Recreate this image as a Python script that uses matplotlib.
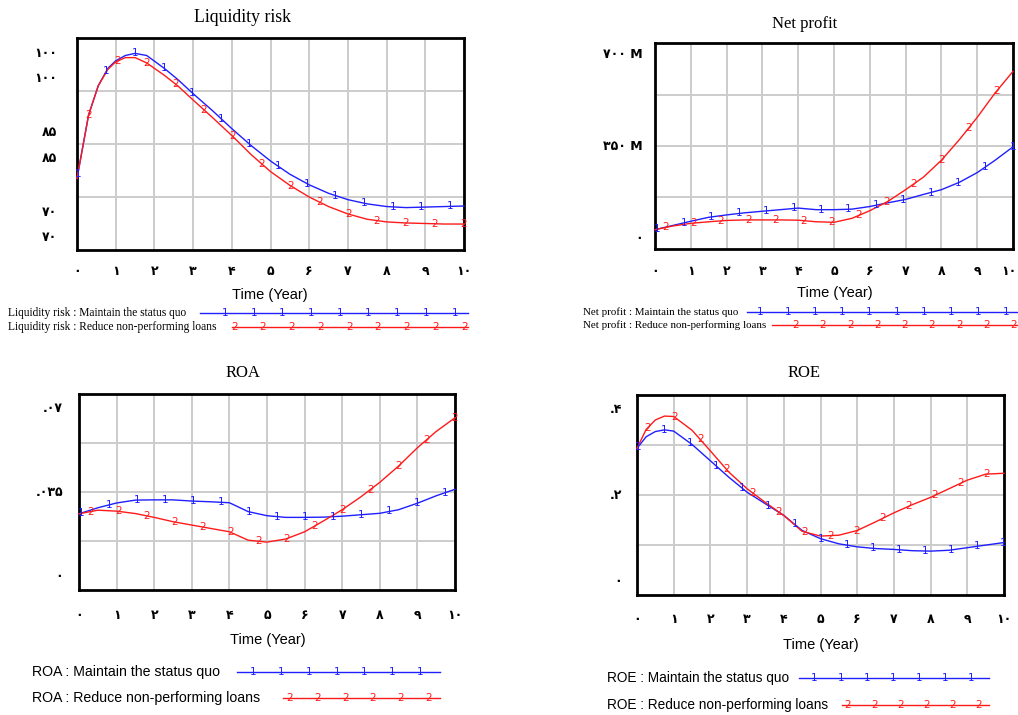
import numpy as np
import matplotlib
matplotlib.use("Agg")
import matplotlib.pyplot as plt
from matplotlib.lines import Line2D
from matplotlib.ticker import FixedLocator
from matplotlib.transforms import ScaledTranslation

W, H = 1018, 715

# ---------------- data ----------------
years = list(range(11))
year_labels = ["۰", "۱", "۲", "۳", "۴", "۵", "۶", "۷", "۸", "۹", "۱۰"]

t_liq = [0, 0.1, 0.3, 0.55, 0.8, 1.0, 1.25, 1.5, 1.8, 2.25, 2.6, 3.0, 3.5, 4.0, 4.5,
         5.0, 5.5, 6.0, 6.5, 7.0, 7.5, 8.0, 8.5, 9.0, 9.5, 10]
liq_status = [78.5, 82.5, 90.5, 96.0, 99.3, 100.7, 101.7, 102.1, 101.7, 99.3, 97.2, 94.5,
              91.3, 87.9, 84.7, 81.8, 79.3, 77.3, 75.7, 74.5, 73.7, 73.2, 73.0, 73.1, 73.2, 73.3]
liq_npl = [78.5, 82.5, 90.5, 96.0, 99.1, 100.5, 101.3, 101.3, 100.3, 98.0, 96.0, 93.3,
           90.0, 86.6, 83.0, 79.8, 77.2, 75.0, 73.2, 71.8, 70.8, 70.3, 70.1, 70.0, 69.9, 69.9]

t_np = [0, 0.5, 1, 1.5, 2, 2.5, 3, 3.5, 4, 4.5, 5, 5.5, 6, 6.5, 7, 7.5, 8, 8.5, 9, 9.5, 10]
np_status = [28, 44, 60, 75, 84, 92, 98, 104, 110, 104, 104, 106, 116, 130, 143, 162,
             180, 208, 245, 292, 343]
np_npl = [28, 42, 52, 58, 63, 65, 65, 65, 64, 58, 56, 71, 100, 135, 180, 228, 292, 370,
          455, 548, 630]

t_roa = [0, 0.5, 1, 1.5, 2, 2.5, 3, 3.5, 4, 4.5, 5, 5.5, 6, 6.5, 7, 7.5, 8, 8.5, 9, 9.5, 10]
roa_status = [0.0255, 0.0280, 0.0300, 0.0312, 0.0313, 0.0313, 0.0308, 0.0305, 0.0301,
              0.0264, 0.0247, 0.0240, 0.0240, 0.0241, 0.0245, 0.0251, 0.0257, 0.0272,
              0.0299, 0.0330, 0.0357]
roa_npl = [0.0255, 0.0270, 0.0266, 0.0256, 0.0240, 0.0222, 0.0208, 0.0194, 0.0180,
           0.0145, 0.0137, 0.0150, 0.0180, 0.0225, 0.0272, 0.0326, 0.0386, 0.0454,
           0.0530, 0.0598, 0.0655]

t_roe = [0, 0.25, 0.5, 0.75, 1, 1.5, 2, 2.5, 3, 3.5, 4, 4.5, 5, 5.5, 6, 6.5, 7, 7.5, 8,
         8.5, 9, 9.5, 10]
roe_status = [0.306, 0.333, 0.345, 0.349, 0.346, 0.315, 0.277, 0.239, 0.204, 0.177, 0.150,
              0.115, 0.096, 0.084, 0.077, 0.073, 0.071, 0.068, 0.067, 0.069, 0.075, 0.081,
              0.087]
roe_npl = [0.306, 0.350, 0.372, 0.381, 0.380, 0.348, 0.300, 0.251, 0.212, 0.180, 0.150,
           0.113, 0.102, 0.104, 0.115, 0.135, 0.156, 0.175, 0.192, 0.212, 0.232, 0.246,
           0.248]

BLUE = "#1f1fff"
RED = "#ff1a1a"
GRID = "#cccccc"
SERIF = ["Liberation Serif", "DejaVu Serif"]
SANS = ["Liberation Sans", "DejaVu Sans"]
DIGITS = ["DejaVu Sans"]

fig = plt.figure(figsize=(W / 100, H / 100), dpi=100)


def fx(x):
    return x / W


def fy(y):
    return 1 - y / H


def make_axes(box, ylim, grid_vals, ytick_vals, ytick_labels, xpad, ypad):
    x0, y0, x1, y1 = box
    ax = fig.add_axes([fx(x0), fy(y1), (x1 - x0) / W, (y1 - y0) / H])
    ax.set_xlim(0, 10)
    ax.set_ylim(*ylim)
    ax.set_xticks(years, year_labels, fontfamily=DIGITS, fontweight="bold", fontsize=9)
    ax.set_yticks(ytick_vals, ytick_labels, fontfamily=DIGITS, fontweight="bold", fontsize=9)
    ax.yaxis.set_minor_locator(FixedLocator(grid_vals))
    ax.tick_params(axis="both", which="both", length=0)
    ax.tick_params(axis="x", pad=xpad)
    ax.tick_params(axis="y", pad=ypad)
    ax.grid(True, axis="x", which="major", color=GRID, lw=1.4)
    ax.grid(True, axis="y", which="minor", color=GRID, lw=1.4)
    ax.grid(False, axis="y", which="major")
    for s in ax.spines.values():
        s.set_linewidth(2)
        s.set_color("black")
    ax.set_axisbelow(True)
    return ax


def draw_series(ax, t, v, color, label, mark_times):
    ax.plot(t, v, color=color, lw=1.0, zorder=3, clip_on=False)
    for mt in mark_times:
        ax.text(mt, np.interp(mt, t, v), label, color=color, fontsize=7.5,
                ha="center", va="center", zorder=4, clip_on=False)


def legend_row(x_text, y, text, x_line0, x_line1, marks, color, label, font, size):
    fig.text(fx(x_text), fy(y), text, ha="left", va="center", fontsize=size,
             fontfamily=font)
    fig.add_artist(Line2D([fx(x_line0), fx(x_line1)], [fy(y), fy(y)],
                          transform=fig.transFigure, color=color, lw=1.0))
    for mx in marks:
        fig.text(fx(mx), fy(y), label, ha="center", va="center", fontsize=7.5,
                 color=color)


def title(xc, y, s, size=12):
    fig.text(fx(xc), fy(y), s, ha="center", va="center", fontsize=size, fontfamily=SERIF)


def xlabel(xc, y):
    fig.text(fx(xc), fy(y), "Time (Year)", ha="center", va="center", fontsize=10.5,
             fontfamily=SANS)


# ---------------- Liquidity risk ----------------
ax1 = make_axes((77, 38, 464, 250), (65, 105), [75, 85, 95],
                [102.4, 97.6, 87.4, 82.6, 72.4, 67.6],
                ["۱۰۰", "۱۰۰", "۸۵", "۸۵", "۷۰", "۷۰"], 10.5, 14)
draw_series(ax1, t_liq, liq_status, BLUE, "1", np.arange(0.02, 10.0, 0.74))
draw_series(ax1, t_liq, liq_npl, RED, "2", np.arange(0.3, 10.01, 0.745))
title(243, 18, "Liquidity risk", 12.8)
xlabel(270, 295)
legend_row(8, 313, "Liquidity risk : Maintain the status quo", 200, 468,
           [225, 254, 282, 311, 340, 368, 397, 426, 455], BLUE, "1", SERIF, 8.3)
legend_row(8, 327, "Liquidity risk : Reduce non-performing loans", 232, 468,
           [235, 263, 292, 321, 350, 378, 407, 436, 465], RED, "2", SERIF, 8.3)

# ---------------- Net profit ----------------
np_lo, np_hi = -45.6, 738.0
q = (np_hi - np_lo) / 4
ax2 = make_axes((655, 43, 1013, 249), (np_lo, np_hi),
                [np_lo + q, np_lo + 2 * q, np_lo + 3 * q],
                [0, 350, 700], ["۰", "۳۵۰ M", "۷۰۰ M"], 11.5, 9)
# last x label sits right at the figure edge: nudge it slightly left
last = ax2.get_xticklabels()[-1]
last.set_transform(last.get_transform() + ScaledTranslation(-4 / 100, 0, fig.dpi_scale_trans))
draw_series(ax2, t_np, np_status, BLUE, "1", np.arange(0.05, 10.01, 0.765))
draw_series(ax2, t_np, np_npl, RED, "2", np.arange(0.3, 10.01, 0.77))
title(805, 24, "Net profit")
xlabel(835, 293)
legend_row(583, 312, "Net profit : Maintain the status quo", 747, 1017,
           [760, 788, 815, 842, 869, 897, 924, 951, 978, 1006], BLUE, "1", SERIF, 7.9)
legend_row(583, 325, "Net profit : Reduce non-performing loans", 772, 1017,
           [796, 823, 851, 878, 905, 932, 960, 987, 1014], RED, "2", SERIF, 7.9)

# ---------------- ROA ----------------
roa_lo, roa_hi = -0.00625, 0.0754
q = (roa_hi - roa_lo) / 4
ax3 = make_axes((79, 394, 455, 590), (roa_lo, roa_hi),
                [roa_lo + q, roa_lo + 2 * q, roa_lo + 3 * q],
                [0, 0.035, 0.07], ["۰", ".۰۳۵", ".۰۷"], 14, 11.5)
draw_series(ax3, t_roa, roa_status, BLUE, "1", np.arange(0.06, 10.0, 0.745))
draw_series(ax3, t_roa, roa_npl, RED, "2", np.arange(0.3, 10.01, 0.745))
title(243, 373, "ROA")
xlabel(268, 640)
legend_row(32, 672, "ROA : Maintain the status quo", 237, 440,
           [253, 281, 309, 337, 364, 392, 420], BLUE, "1", SANS, 10.2)
legend_row(32, 698, "ROA : Reduce non-performing loans", 283, 440,
           [290, 318, 346, 373, 401, 429], RED, "2", SANS, 10.2)

# ---------------- ROE ----------------
roe_lo, roe_hi = -0.035, 0.430
q = (roe_hi - roe_lo) / 4
ax4 = make_axes((637, 395, 1004, 595), (roe_lo, roe_hi),
                [roe_lo + q, roe_lo + 2 * q, roe_lo + 3 * q],
                [0, 0.2, 0.4], ["۰", ".۲", ".۴"], 13, 11)
draw_series(ax4, t_roe, roe_status, BLUE, "1", np.arange(0.03, 10.01, 0.711))
draw_series(ax4, t_roe, roe_npl, RED, "2", np.arange(0.3, 10.01, 0.71))
title(804, 373, "ROE")
xlabel(821, 645)
legend_row(607, 678, "ROE : Maintain the status quo", 799, 989,
           [814, 841, 867, 893, 919, 945, 971], BLUE, "1", SANS, 9.8)
legend_row(607, 705, "ROE : Reduce non-performing loans", 842, 989,
           [848, 875, 901, 927, 953, 979], RED, "2", SANS, 9.8)

fig.savefig("out.png", dpi=100, facecolor="white")
